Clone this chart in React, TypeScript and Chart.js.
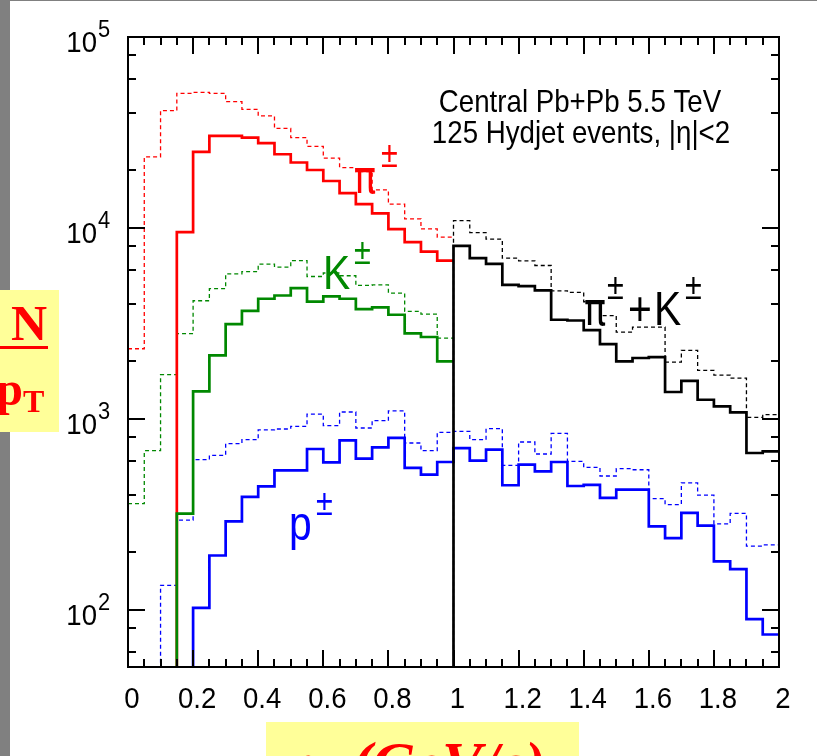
import React, { useEffect, useRef } from 'react';
import { Chart, registerables } from 'chart.js';

Chart.register(...registerables);

const W = 817;
const H = 756;

// bin lower edges (GeV/c), bin width 0.05
const pTBins = [0, 0.05, 0.1, 0.15, 0.2, 0.25, 0.3, 0.35, 0.4, 0.45, 0.5, 0.55, 0.6, 0.65, 0.7, 0.75, 0.8, 0.85, 0.9, 0.95,
  1.0, 1.05, 1.1, 1.15, 1.2, 1.25, 1.3, 1.35, 1.4, 1.45, 1.5, 1.55, 1.6, 1.65, 1.7, 1.75, 1.8, 1.85, 1.9, 1.95];
const binWidth = 0.05;

const N = null;
const OFF = 10; // below the visible axis range

// pi± (solid = detected, dashed = all)
const pionSolid = [N, N, OFF, 9500, 25000, 30300, 30300, 29700, 27800, 24300, 22000, 20100, 17600, 15200, 13300, 11900, 9850, 8410, 7510, 6740,
  N, N, N, N, N, N, N, N, N, N, N, N, N, N, N, N, N, N, N, N];
const pionAll = [2325, 23550, 41100, 50700, 51300, 50700, 45800, 41800, 38600, 33200, 29700, 26700, 23200, 20700, 19700, 15800, 13300, 11150, 9880, 8940,
  N, N, N, N, N, N, N, N, N, N, N, N, N, N, N, N, N, N, N, N];
// K±
const kaonSolid = [N, N, OFF, 318, 1390, 2145, 3130, 3675, 4250, 4420, 4830, 4110, 4370, 4250, 3750, 3830, 3505, 2800, 2680, 1995,
  N, N, N, N, N, N, N, N, N, N, N, N, N, N, N, N, N, N, N, N];
const kaonAll = [359, 680, 1700, 2790, 4150, 4800, 5740, 5890, 6460, 6230, 6740, 5560, 5800, 5610, 4990, 5030, 4550, 3650, 3530, 2645,
  N, N, N, N, N, N, N, N, N, N, N, N, N, N, N, N, N, N, N, N];
// p±
const protonSolid = [N, N, N, OFF, 102, 192, 290, 389, 442, 536, 536, 694, 591, 770, 618, 708, 793, 552, 509, 593,
  702, 603, 689, 448, 574, 530, 593, 444, 450, 385, 425, 425, 273, 237, 321, 275, 179, 163, 89, 74];
const protonAll = [N, OFF, 134, 294, 610, 643, 740, 776, 873, 883, 912, 1058, 920, 1084, 894, 976, 1100, 746, 680, 848,
  858, 776, 887, 570, 755, 653, 837, 597, 556, 501, 547, 540, 381, 355, 461, 398, 281, 319, 215, 218];
// pi± + K±
const piKSolid = [N, N, N, N, N, N, N, N, N, N, N, N, N, N, N, N, N, N, N, OFF,
  8050, 6940, 6480, 5030, 4950, 4700, 3300, 3270, 2910, 2460, 1995, 2080, 2100, 1380, 1580, 1257, 1160, 1080, 661, 675];
const piKAll = [N, N, N, N, N, N, N, N, N, N, N, N, N, N, N, N, N, N, N, OFF,
  10900, 9450, 8730, 6940, 6720, 6350, 4680, 4590, 4100, 3470, 2840, 3020, 3020, 1980, 2280, 1790, 1690, 1630, 1016, 1050];

// axes
const xMin = 0, xMax = 2;
const yMin = 50, yMax = 100000;
const xLabelValues = [0, 0.2, 0.4, 0.6, 0.8, 1, 1.2, 1.4, 1.6, 1.8, 2];
const xLabels = ['0', '0.2', '0.4', '0.6', '0.8', '1', '1.2', '1.4', '1.6', '1.8', '2'];
const xMinorTicks = [...pTBins, 2.0];
const yExponents = [1, 2, 3, 4, 5];
const yLabelExponents = [2, 3, 4, 5];
const yMinorMult = [2, 4, 6, 8];

const RED = '#ff0000';
const GREEN = '#008800';
const BLUE = '#0000ff';
const BLACK = '#000000';

function histPoints(vals: (number | null)[]) {
  const pts: { x: number; y: number }[] = [];
  let last = -1;
  vals.forEach((v, i) => {
    if (v !== null) {
      pts.push({ x: pTBins[i], y: v });
      last = i;
    }
  });
  if (last >= 0) pts.push({ x: pTBins[last] + binWidth, y: vals[last] as number });
  return pts;
}

function txt(ctx: CanvasRenderingContext2D, s: string, x: number, y: number, font: string, color: string, sx = 1, align: CanvasTextAlign = 'left') {
  ctx.save();
  ctx.translate(x, y);
  ctx.scale(sx, 1);
  ctx.font = font;
  ctx.fillStyle = color;
  ctx.textAlign = align;
  ctx.textBaseline = 'alphabetic';
  ctx.fillText(s, 0, 0);
  ctx.restore();
}

const SANS = '"Liberation Sans", Arial, sans-serif';
const SERIF = '"Liberation Serif", "Times New Roman", serif';
const GREEK = '"DejaVu Sans", sans-serif';

const decorPlugin = {
  id: 'decor',
  beforeDraw(chart: any) {
    const ctx: CanvasRenderingContext2D = chart.ctx;
    ctx.save();
    ctx.fillStyle = '#ffffff';
    ctx.fillRect(0, 0, W, H);
    // slide border
    ctx.fillStyle = '#808080';
    ctx.fillRect(0, 0, 10, H);
    ctx.fillRect(0, 0, W, 1);
    // left yellow box (dN/dpT, partially off-screen)
    ctx.fillStyle = '#ffff99';
    ctx.fillRect(0, 290, 59, 142);
    txt(ctx, 'N', 47, 340, 'bold 50px ' + SERIF, RED, 1, 'right');
    ctx.fillStyle = RED;
    ctx.fillRect(0, 346, 48, 3);
    txt(ctx, 'p', 23, 405, 'bold 48px ' + SERIF, RED, 1, 'right');
    txt(ctx, 'T', 23, 412, 'bold 32px ' + SERIF, RED, 1, 'left');
    // bottom yellow box (pT (GeV/c), partially off-screen)
    ctx.fillStyle = '#ffff99';
    ctx.fillRect(266, 722, 313, H - 722);
    txt(ctx, 'p', 288, 783, 'bold italic 60px ' + SERIF, RED);
    txt(ctx, '(GeV/c)', 352, 783, 'bold italic 60px ' + SERIF, RED);
    ctx.restore();
  },
  afterDatasetsDraw(chart: any) {
    const ctx: CanvasRenderingContext2D = chart.ctx;
    const { left, right, top, bottom } = chart.chartArea;
    const xs = chart.scales.x;
    const ys = chart.scales.y;
    ctx.save();
    ctx.strokeStyle = BLACK;
    ctx.lineWidth = 2;
    ctx.strokeRect(left, top, right - left, bottom - top);
    ctx.beginPath();
    // x ticks (bottom + top, inward)
    xMinorTicks.forEach((v) => {
      const px = Math.round(xs.getPixelForValue(v));
      const major = xLabelValues.some((m) => Math.abs(m - v) < 1e-6);
      const len = major ? 17 : 8;
      ctx.moveTo(px, bottom);
      ctx.lineTo(px, bottom - len);
      ctx.moveTo(px, top);
      ctx.lineTo(px, top + len);
    });
    // y ticks (left + right, inward)
    yExponents.forEach((e) => {
      [1, ...yMinorMult].forEach((m) => {
        const v = m * Math.pow(10, e);
        if (v < yMin || v > yMax) return;
        const py = Math.round(ys.getPixelForValue(v));
        const len = m === 1 ? 17 : 8;
        ctx.moveTo(left, py);
        ctx.lineTo(left + len, py);
        ctx.moveTo(right, py);
        ctx.lineTo(right - len, py);
      });
    });
    ctx.stroke();

    // x labels
    xLabelValues.forEach((v, i) => {
      const px = xs.getPixelForValue(v);
      txt(ctx, xLabels[i], px + 4, 708, '29px ' + SANS, BLACK, 0.95, 'center');
    });
    // y labels 10^n
    yLabelExponents.forEach((e) => {
      const py = ys.getPixelForValue(Math.pow(10, e));
      txt(ctx, '10', 97, py + 15, '29px ' + SANS, BLACK, 0.95, 'right');
      txt(ctx, String(e), 98, py, '23px ' + SANS, BLACK, 0.95, 'left');
    });

    // header text
    txt(ctx, 'Central Pb+Pb 5.5 TeV', 580, 112, '32px ' + SANS, BLACK, 0.865, 'center');
    txt(ctx, '125 Hydjet events, |\u03b7|<2', 581, 143, '32px ' + SANS, BLACK, 0.865, 'center');

    // curve labels
    txt(ctx, '\u03c0', 354, 193, '46px ' + GREEK, RED, 0.8);
    txt(ctx, '\u00b1', 381, 167, '36px ' + SANS, RED, 0.85);

    txt(ctx, 'K', 323, 289, '48px ' + SANS, GREEN, 0.85);
    txt(ctx, '\u00b1', 354, 264, '36px ' + SANS, GREEN, 0.85);

    txt(ctx, 'p', 289, 540, '48px ' + SANS, BLUE, 0.85);
    txt(ctx, '\u00b1', 316, 515, '36px ' + SANS, BLUE, 0.85);

    txt(ctx, '\u03c0', 584, 325, '46px ' + GREEK, BLACK, 0.8);
    txt(ctx, '\u00b1', 607, 299, '36px ' + SANS, BLACK, 0.85);
    txt(ctx, '+', 628, 325, '48px ' + SANS, BLACK, 0.85);
    txt(ctx, 'K', 654, 325, '48px ' + SANS, BLACK, 0.85);
    txt(ctx, '\u00b1', 685, 299, '36px ' + SANS, BLACK, 0.85);
    ctx.restore();
  },
};

function ds(vals: (number | null)[], color: string, dashed: boolean) {
  return {
    data: histPoints(vals),
    borderColor: color,
    backgroundColor: color,
    borderWidth: dashed ? 1.3 : 2.7,
    borderDash: dashed ? [4, 3] : [],
    pointRadius: 0,
    fill: false,
    tension: 0,
    stepped: 'before' as const,
  };
}

export default function App() {
  const ref = useRef<HTMLCanvasElement>(null);
  useEffect(() => {
    if (!ref.current) return;
    const chart = new Chart(ref.current, {
      type: 'line',
      data: {
        datasets: [
          ds(piKSolid, BLACK, false),
          ds(kaonSolid, GREEN, false),
          ds(pionSolid, RED, false),
          ds(protonSolid, BLUE, false),
          ds(piKAll, BLACK, true),
          ds(pionAll, RED, true),
          ds(kaonAll, GREEN, true),
          ds(protonAll, BLUE, true),
        ] as any,
      },
      options: {
        animation: false,
        responsive: false,
        devicePixelRatio: 1,
        events: [],
        layout: { padding: { left: 128, right: W - 779, top: 37, bottom: H - 667 } },
        plugins: { legend: { display: false }, tooltip: { enabled: false } },
        scales: {
          x: { type: 'linear', min: xMin, max: xMax, display: false },
          y: { type: 'logarithmic', min: yMin, max: yMax, display: false },
        },
      },
      plugins: [decorPlugin],
    });
    return () => chart.destroy();
  }, []);
  return (
    <div style={{ position: 'fixed', left: 0, top: 0, width: W, height: H, background: '#fff' }}>
      <canvas ref={ref} width={W} height={H} style={{ width: W, height: H, display: 'block' }} />
    </div>
  );
}
